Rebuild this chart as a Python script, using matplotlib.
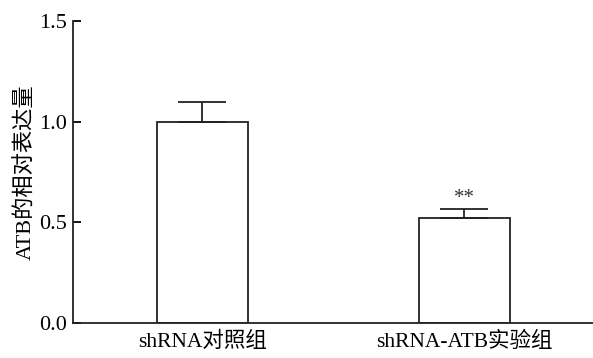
import matplotlib.pyplot as plt

plt.rcParams['font.family'] = ['Liberation Serif', 'Noto Sans CJK SC']

groups = ['shRNA对照组', 'shRNA-ATB实验组']
values = [1.0, 0.523]
errors = [0.10, 0.043]
marks = ['', '**']

fig = plt.figure(figsize=(5.93, 3.58), dpi=100)
ax = fig.add_axes([0.1225, 0.0978, 0.8775, 0.843])

x = range(len(groups))
ax.bar(x, values, width=0.347, color='white', edgecolor='#222222', linewidth=1.3)
ax.errorbar(x, values, yerr=[[0, 0], errors], fmt='none', ecolor='#222222',
            elinewidth=1.3, capsize=17, capthick=1.3)
for xi, v, e, m in zip(x, values, errors, marks):
    if m:
        ax.text(xi, v + e + 0.005, m, ha='center', va='bottom', fontsize=15, color='#333333')

ax.set_xlim(-0.496, 1.492)
ax.set_ylim(0, 1.5)
ax.set_yticks([0, 0.5, 1.0, 1.5])
ax.set_yticklabels(['0.0', '0.5', '1.0', '1.5'])
ax.set_xticks(list(x))
ax.set_xticklabels(groups)
ax.tick_params(axis='x', length=0, labelsize=15.5, pad=6)
ax.tick_params(axis='y', direction='in', length=6, width=1.3, labelsize=16, pad=4)
ax.set_ylabel('ATB的相对表达量', fontsize=16, labelpad=2)
for s in ['top', 'right']:
    ax.spines[s].set_visible(False)
for s in ['left', 'bottom']:
    ax.spines[s].set_linewidth(1.3)
    ax.spines[s].set_color('#222222')

fig.savefig('out.png', dpi=100)
